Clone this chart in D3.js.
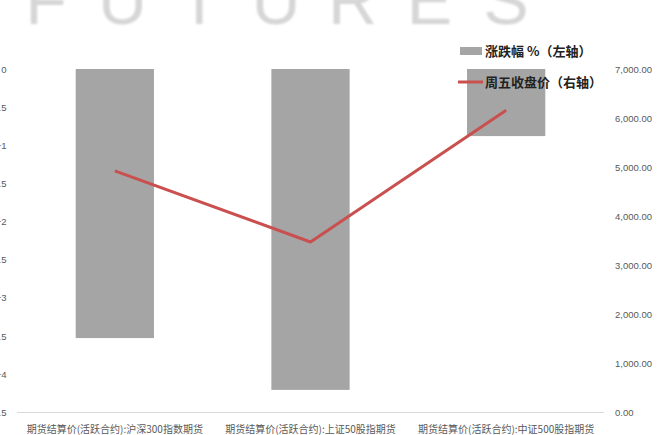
<!DOCTYPE html>
<html><head><meta charset="utf-8">
<script src="https://cdn.jsdelivr.net/npm/d3@7"></script>
<style>html,body{margin:0;padding:0;background:#fff;overflow:hidden}</style>
</head><body>
<svg id="c" width="667" height="435"></svg>
<script>
const categories = ["期货结算价(活跃合约):沪深300指数期货","期货结算价(活跃合约):上证50股指期货","期货结算价(活跃合约):中证500股指期货"];
const changePct = [-3.53, -4.21, -0.88];
const fridayClose = [4920, 3470, 6160];
const leftTicks = [0, -0.5, -1, -1.5, -2, -2.5, -3, -3.5, -4, -4.5];
const rightTicks = [0, 1000, 2000, 3000, 4000, 5000, 6000, 7000];
const legendLabels = ["涨跌幅 %（左轴）", "周五收盘价（右轴）"];
const watermark = ["F","U","T","U","R","E","S"];

const svg = d3.select("#c");
const cjk = "'Noto Sans CJK SC','Noto Sans',sans-serif";

// watermark
const defs = svg.append("defs");
defs.append("filter").attr("id","blur").append("feGaussianBlur").attr("stdDeviation",0.8);
const wx = d3.scalePoint().domain(d3.range(watermark.length)).range([46, 506]);
svg.append("g").attr("filter","url(#blur)").selectAll("text").data(watermark).join("text")
  .attr("x",(d,i)=>wx(i)).attr("y",24).attr("text-anchor","middle")
  .attr("font-family","'Liberation Sans',Arial,sans-serif").attr("font-weight",400)
  .attr("font-size",68).attr("fill","#d6d6d6").text(d=>d);

const x = d3.scaleBand().domain(categories).range([17,604]).paddingInner(0.6).paddingOuter(0.3);
const yL = d3.scaleLinear().domain([-4.5,0]).range([412,69]);
const yR = d3.scaleLinear().domain([0,7000]).range([412,69]);

// bars
svg.append("g").selectAll("rect").data(categories).join("rect")
  .attr("x",d=>x(d)).attr("width",x.bandwidth())
  .attr("y",yL(0)).attr("height",(d,i)=>yL(changePct[i])-yL(0))
  .attr("fill","#a5a5a5");

// baseline
svg.append("line").attr("x1",17).attr("x2",604).attr("y1",412.5).attr("y2",412.5)
  .attr("stroke","#d9d9d9").attr("stroke-width",1);

// line
const line = d3.line().x((d,i)=>x(categories[i])+x.bandwidth()/2).y(d=>yR(d));
svg.append("path").datum(fridayClose).attr("d",line)
  .attr("fill","none").attr("stroke","#c9504f").attr("stroke-width",3).attr("stroke-linejoin","round");

// left axis
const axL = d3.axisLeft(yL).tickValues(leftTicks).tickSize(0).tickPadding(0).tickFormat(d3.format("~g"));
const gL = svg.append("g").attr("transform","translate(6.5,0)").call(axL);
gL.select(".domain").remove();
gL.selectAll("text").attr("font-family","'Liberation Sans',Arial,sans-serif").attr("font-size",9.5).attr("fill","#595959").attr("dy","0.35em");

// right axis
const axR = d3.axisRight(yR).tickValues(rightTicks).tickSize(0).tickPadding(0).tickFormat(d3.format(",.2f"));
const gR = svg.append("g").attr("transform","translate(615,0)").call(axR);
gR.select(".domain").remove();
gR.selectAll("text").attr("font-family","'Liberation Sans',Arial,sans-serif").attr("font-size",9.5).attr("fill","#595959").attr("dy","0.35em");

// x labels
svg.append("g").selectAll("text").data(categories).join("text")
  .attr("x",d=>x(d)+x.bandwidth()/2).attr("y",429).attr("dy","0.35em").attr("text-anchor","middle")
  .attr("font-family",cjk).attr("font-size",10).attr("fill","#595959").text(d=>d);

// legend
const lg = svg.append("g");
lg.append("rect").attr("x",460).attr("y",47).attr("width",22).attr("height",8).attr("fill","#a5a5a5");
lg.append("line").attr("x1",458).attr("x2",483).attr("y1",82).attr("y2",82).attr("stroke","#c9504f").attr("stroke-width",3);
lg.selectAll("text").data(legendLabels).join("text")
  .attr("x",485).attr("y",(d,i)=>i?82:51).attr("dy","0.35em")
  .attr("font-family",cjk).attr("font-weight",700).attr("font-size",13).attr("fill","#222").text(d=>d);
</script>
</body></html>
